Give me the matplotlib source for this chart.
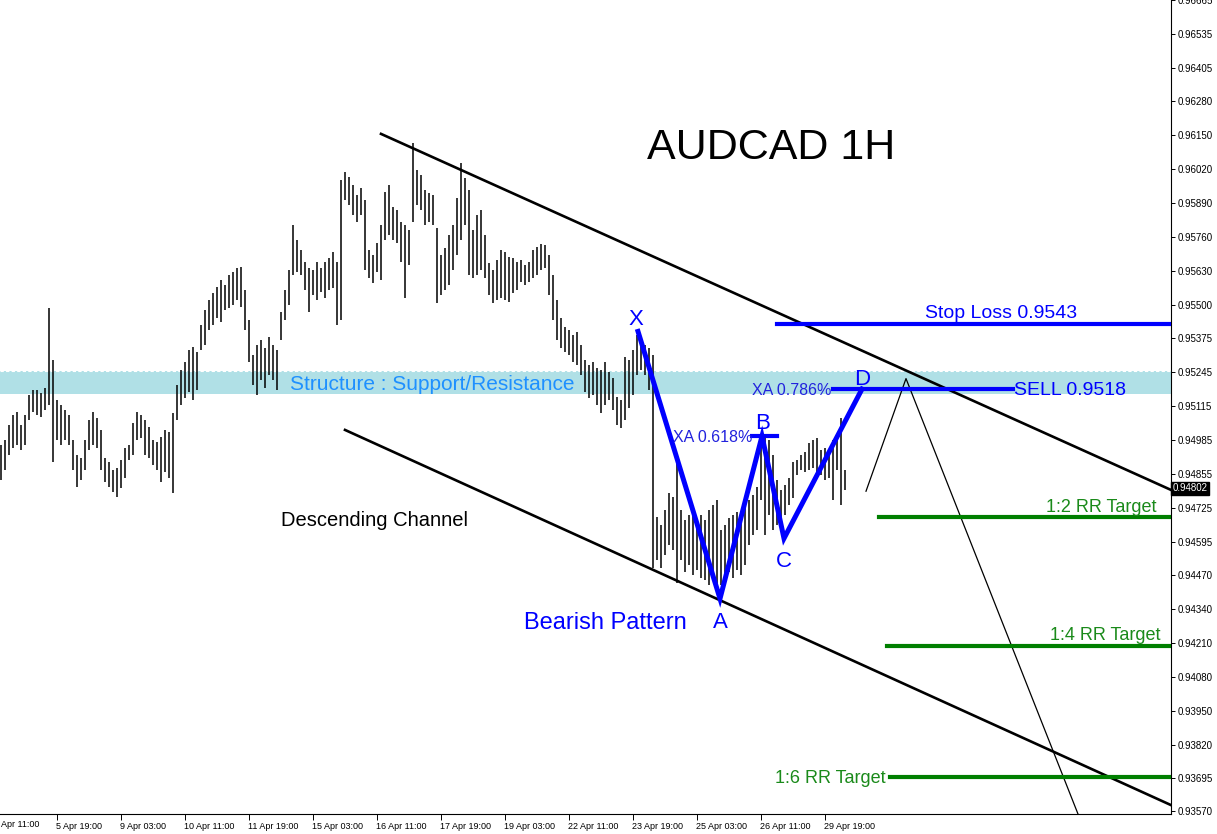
import numpy as np
import matplotlib.pyplot as plt

plt.rcParams['font.family'] = ['Liberation Sans', 'DejaVu Sans']

# AUDCAD 1H - bar highs / lows (one bar every 2 hours)
highs = [
    0.94966, 0.94986, 0.95043, 0.95081, 0.95092, 0.95043, 0.95081, 0.95157, 0.95176, 0.95176,
    0.95165, 0.95184, 0.95489, 0.95291, 0.95138, 0.95119, 0.95100, 0.95081, 0.94986, 0.94928,
    0.94917, 0.94986, 0.95062, 0.95092, 0.95070, 0.95024, 0.94917, 0.94902, 0.94871, 0.94879,
    0.94909, 0.94955, 0.94966, 0.95050, 0.95092, 0.95081, 0.95062, 0.95035, 0.94986, 0.94978,
    0.94997, 0.95024, 0.95016, 0.95089, 0.95195, 0.95253, 0.95283, 0.95329, 0.95341, 0.95321,
    0.95424, 0.95482, 0.95520, 0.95547, 0.95570, 0.95596, 0.95577, 0.95615, 0.95627, 0.95642,
    0.95646, 0.95558, 0.95444, 0.95310, 0.95348, 0.95367, 0.95337, 0.95379, 0.95348, 0.95329,
    0.95474, 0.95558, 0.95634, 0.95806, 0.95749, 0.95711, 0.95665, 0.95642, 0.95634, 0.95665,
    0.95642, 0.95665, 0.95680, 0.95703, 0.95665, 0.95978, 0.96008, 0.95989, 0.95959, 0.95921,
    0.95947, 0.95902, 0.95711, 0.95692, 0.95737, 0.95806, 0.95932, 0.95959, 0.95875, 0.95863,
    0.95818, 0.95806, 0.95787, 0.96119, 0.96016, 0.95997, 0.95940, 0.95928, 0.95921, 0.95795,
    0.95692, 0.95718, 0.95768, 0.95806, 0.95909, 0.96043, 0.95986, 0.95940, 0.95787, 0.95844,
    0.95863, 0.95768, 0.95661, 0.95634, 0.95673, 0.95711, 0.95703, 0.95684, 0.95680, 0.95665,
    0.95673, 0.95653, 0.95665, 0.95711, 0.95722, 0.95734, 0.95730, 0.95692, 0.95615, 0.95520,
    0.95451, 0.95417, 0.95405, 0.95386, 0.95398, 0.95348, 0.95291, 0.95272, 0.95283, 0.95260,
    0.95253, 0.95283, 0.95245, 0.95222, 0.95150, 0.95138, 0.95302, 0.95291, 0.95329, 0.95386,
    0.95367, 0.95348, 0.95337, 0.95310, 0.94692, 0.94661, 0.94718, 0.94783, 0.94768, 0.94909,
    0.94718, 0.94680, 0.94699, 0.94711, 0.94673, 0.94699, 0.94680, 0.94718, 0.94737, 0.94756,
    0.94642, 0.94661, 0.94688, 0.94699, 0.94711, 0.94680, 0.94737, 0.94756, 0.94776, 0.94806,
    0.94986, 0.94993, 0.94986, 0.94928, 0.94833, 0.94795, 0.94814, 0.94840, 0.94902, 0.94909,
    0.94928, 0.94940, 0.94974, 0.94986, 0.94993, 0.94947, 0.94955, 0.94928, 0.94986, 0.95005,
    0.95070, 0.94871,
]
lows = [
    0.94833, 0.94871, 0.94928, 0.94955, 0.94966, 0.94947, 0.94966, 0.95062, 0.95092, 0.95081,
    0.95073, 0.95100, 0.95119, 0.94902, 0.94986, 0.94966, 0.94986, 0.94966, 0.94871, 0.94806,
    0.94833, 0.94871, 0.94947, 0.94966, 0.94955, 0.94871, 0.94825, 0.94806, 0.94787, 0.94768,
    0.94802, 0.94840, 0.94909, 0.94928, 0.94986, 0.94993, 0.94928, 0.94917, 0.94890, 0.94871,
    0.94825, 0.94863, 0.94840, 0.94783, 0.95062, 0.95119, 0.95146, 0.95169, 0.95138, 0.95176,
    0.95329, 0.95348, 0.95405, 0.95424, 0.95451, 0.95436, 0.95482, 0.95489, 0.95501, 0.95520,
    0.95493, 0.95405, 0.95283, 0.95195, 0.95157, 0.95215, 0.95184, 0.95234, 0.95215, 0.95176,
    0.95367, 0.95444, 0.95501, 0.95615, 0.95627, 0.95615, 0.95558, 0.95474, 0.95539, 0.95520,
    0.95550, 0.95528, 0.95558, 0.95566, 0.95424, 0.95444, 0.95902, 0.95883, 0.95844, 0.95818,
    0.95844, 0.95634, 0.95604, 0.95585, 0.95627, 0.95596, 0.95749, 0.95768, 0.95749, 0.95737,
    0.95665, 0.95528, 0.95653, 0.95818, 0.95883, 0.95863, 0.95806, 0.95818, 0.95806, 0.95508,
    0.95539, 0.95558, 0.95577, 0.95634, 0.95692, 0.95749, 0.95806, 0.95615, 0.95604, 0.95615,
    0.95634, 0.95604, 0.95539, 0.95508, 0.95520, 0.95528, 0.95520, 0.95512, 0.95547, 0.95558,
    0.95589, 0.95577, 0.95589, 0.95604, 0.95615, 0.95634, 0.95642, 0.95539, 0.95444, 0.95367,
    0.95337, 0.95321, 0.95310, 0.95283, 0.95272, 0.95234, 0.95169, 0.95146, 0.95157, 0.95119,
    0.95089, 0.95119, 0.95138, 0.95100, 0.95043, 0.95031, 0.95062, 0.95108, 0.95157, 0.95234,
    0.95253, 0.95234, 0.95176, 0.94497, 0.94527, 0.94497, 0.94547, 0.94585, 0.94566, 0.94440,
    0.94527, 0.94482, 0.94508, 0.94470, 0.94489, 0.94459, 0.94451, 0.94432, 0.94470, 0.94421,
    0.94432, 0.94451, 0.94482, 0.94459, 0.94489, 0.94470, 0.94508, 0.94585, 0.94623, 0.94642,
    0.94756, 0.94623, 0.94699, 0.94642, 0.94661, 0.94673, 0.94699, 0.94737, 0.94764, 0.94852,
    0.94871, 0.94863, 0.94871, 0.94879, 0.94863, 0.94852, 0.94833, 0.94840, 0.94756, 0.94871,
    0.94737, 0.94795,
]
last_price = 0.94802

time_labels = ["4 Apr 11:00", "5 Apr 19:00", "9 Apr 03:00", "10 Apr 11:00", "11 Apr 19:00",
               "15 Apr 03:00", "16 Apr 11:00", "17 Apr 19:00", "19 Apr 03:00", "22 Apr 11:00",
               "23 Apr 19:00", "25 Apr 03:00", "26 Apr 11:00", "29 Apr 19:00"]
price_ticks = [0.96665, 0.96535, 0.96405, 0.96280, 0.96150, 0.96020, 0.95890, 0.95760,
               0.95630, 0.95500, 0.95375, 0.95245, 0.95115, 0.94985, 0.94855, 0.94725,
               0.94595, 0.94470, 0.94340, 0.94210, 0.94080, 0.93950, 0.93820, 0.93695,
               0.93570]

# harmonic pattern points (hour index, price)
pattern_names = ["X", "A", "B", "C", "D"]
pattern_hours = [322.75, 363.75, 384.75, 395.75, 434.75]
pattern_prices = [0.9540, 0.9438, 0.9500, 0.9461, 0.9518]

# descending channel & projected path
upper_hours, upper_prices = [194.25, 589.25], [0.96154, 0.94795]
lower_hours, lower_prices = [176.25, 589.25], [0.95024, 0.93592]
proj_hours, proj_prices = [436.75, 456.75, 545.75], [0.9479, 0.9522, 0.9350]

zone = (0.9516, 0.9525)
stop_loss = 0.9543
sell = 0.9518
xa618 = 0.9500
targets = [0.9469, 0.9420, 0.9370]
target_names = ["1:2 RR Target", "1:4 RR Target", "1:6 RR Target"]

BLUE = '#0000ff'
GREEN = '#007f00'

fig = plt.figure(figsize=(12.17, 8.34), dpi=100)
ax = fig.add_axes([0, 20 / 834, 1171 / 1217, 814 / 834])
ax.set_xlim(3.75, 589.25)
ax.set_ylim(0.93558, 0.96665)

# structure zone
ax.axhspan(zone[0], zone[1], color='#b0e0e6', zorder=0, lw=0)
ax.axhline(zone[1], color='white', lw=0.8, ls=(0, (3, 2)), zorder=1)
ax.text(148.75, 0.95178, "Structure : Support/Resistance", color='#1e90ff',
        fontsize=15, va='baseline', ha='left', zorder=2)

# price bars
hours = 4 + 2 * np.arange(len(highs))
ax.vlines(hours, lows, highs, color='black', lw=1.1, zorder=3)

# channel
ax.plot(upper_hours, upper_prices, color='black', lw=1.9, zorder=4)
ax.plot(lower_hours, lower_prices, color='black', lw=1.9, zorder=4)
ax.plot(proj_hours, proj_prices, color='black', lw=0.9, zorder=4)

# pattern
ax.plot(pattern_hours, pattern_prices, color=BLUE, lw=3.6, zorder=5,
        solid_joinstyle='miter')
ax.plot([379.75, 392.25], [xa618, xa618], color=BLUE, lw=3.0, zorder=5)
ax.plot([420.25, 510.25], [sell, sell], color=BLUE, lw=3.0, zorder=5)
ax.plot([392.25, 589.25], [stop_loss, stop_loss], color=BLUE, lw=3.0, zorder=5)

label_pos = [(321.75, 0.95425), (363.75, 0.94268), (385.25, 0.95028),
             (395.75, 0.94501), (434.75, 0.95195)]
for name, (hx, py) in zip(pattern_names, label_pos):
    ax.text(hx, py, name, color=BLUE, fontsize=16, ha='center', va='baseline', zorder=6)

ax.text(340.25, 0.94979, "XA 0.618%", color='#2222dd', fontsize=11.5,
        ha='left', va='baseline', zorder=6)
ax.text(419.25, 0.95157, "XA 0.786%", color='#2222dd', fontsize=11.5,
        ha='right', va='baseline', zorder=6)
ax.text(510.75, 0.95157, "SELL " + format(sell, '.4f'), color=BLUE, fontsize=14,
        ha='left', va='baseline', zorder=6)
ax.text(466.25, 0.95451, "Stop Loss " + format(stop_loss, '.4f'), color=BLUE,
        fontsize=14, ha='left', va='baseline', zorder=6)

# targets
starts = [443.25, 447.25, 448.75]
for t, s in zip(targets, starts):
    ax.plot([s, 589.25], [t, t], color=GREEN, lw=3.0, zorder=5)
ax.text(581.75, 0.94711, target_names[0], color='#1a8a1a', fontsize=13,
        ha='right', va='baseline', zorder=6)
ax.text(583.75, 0.94222, target_names[1], color='#1a8a1a', fontsize=13,
        ha='right', va='baseline', zorder=6)
ax.text(446.75, 0.93676, target_names[2], color='#1a8a1a', fontsize=13,
        ha='right', va='baseline', zorder=6)

# captions
ax.text(389.25, 0.96058, "AUDCAD 1H", fontsize=31, ha='center', va='baseline', zorder=6)
ax.text(144.25, 0.94657, "Descending Channel", fontsize=14.5, ha='left', va='baseline', zorder=6)
ax.text(265.75, 0.94264, "Bearish Pattern", color=BLUE, fontsize=17,
        ha='left', va='baseline', zorder=6)

# axes styling (MT4 look)
for side in ['top', 'left']:
    ax.spines[side].set_visible(False)
for side in ['right', 'bottom']:
    ax.spines[side].set_linewidth(0.8)
ax.yaxis.tick_right()
ax.set_yticks(price_ticks)
ax.set_yticklabels([format(p, '.5f') for p in price_ticks])
ax.tick_params(axis='y', length=3, width=0.7, pad=2, labelsize=7)

tick_hours = [32 * k for k in range(len(time_labels))]
ax.set_xticks(tick_hours[1:])
ax.set_xticklabels(time_labels[1:])
ax.tick_params(axis='x', length=4, width=0.7, pad=2, labelsize=6.5)
for lbl in ax.get_xticklabels():
    lbl.set_horizontalalignment('left')
ax.text(tick_hours[0] + 0.5, -0.0074, time_labels[0], transform=ax.get_xaxis_transform(),
        fontsize=6.5, ha='left', va='top', clip_on=False)

# current price tag
ax.text(1.0015, last_price, format(last_price, '.5f'), transform=ax.get_yaxis_transform(),
        fontsize=7, color='white', ha='left', va='center', zorder=10, clip_on=False,
        bbox=dict(boxstyle='square,pad=0.15', fc='black', ec='black'))

fig.savefig('out.png', dpi=100)
